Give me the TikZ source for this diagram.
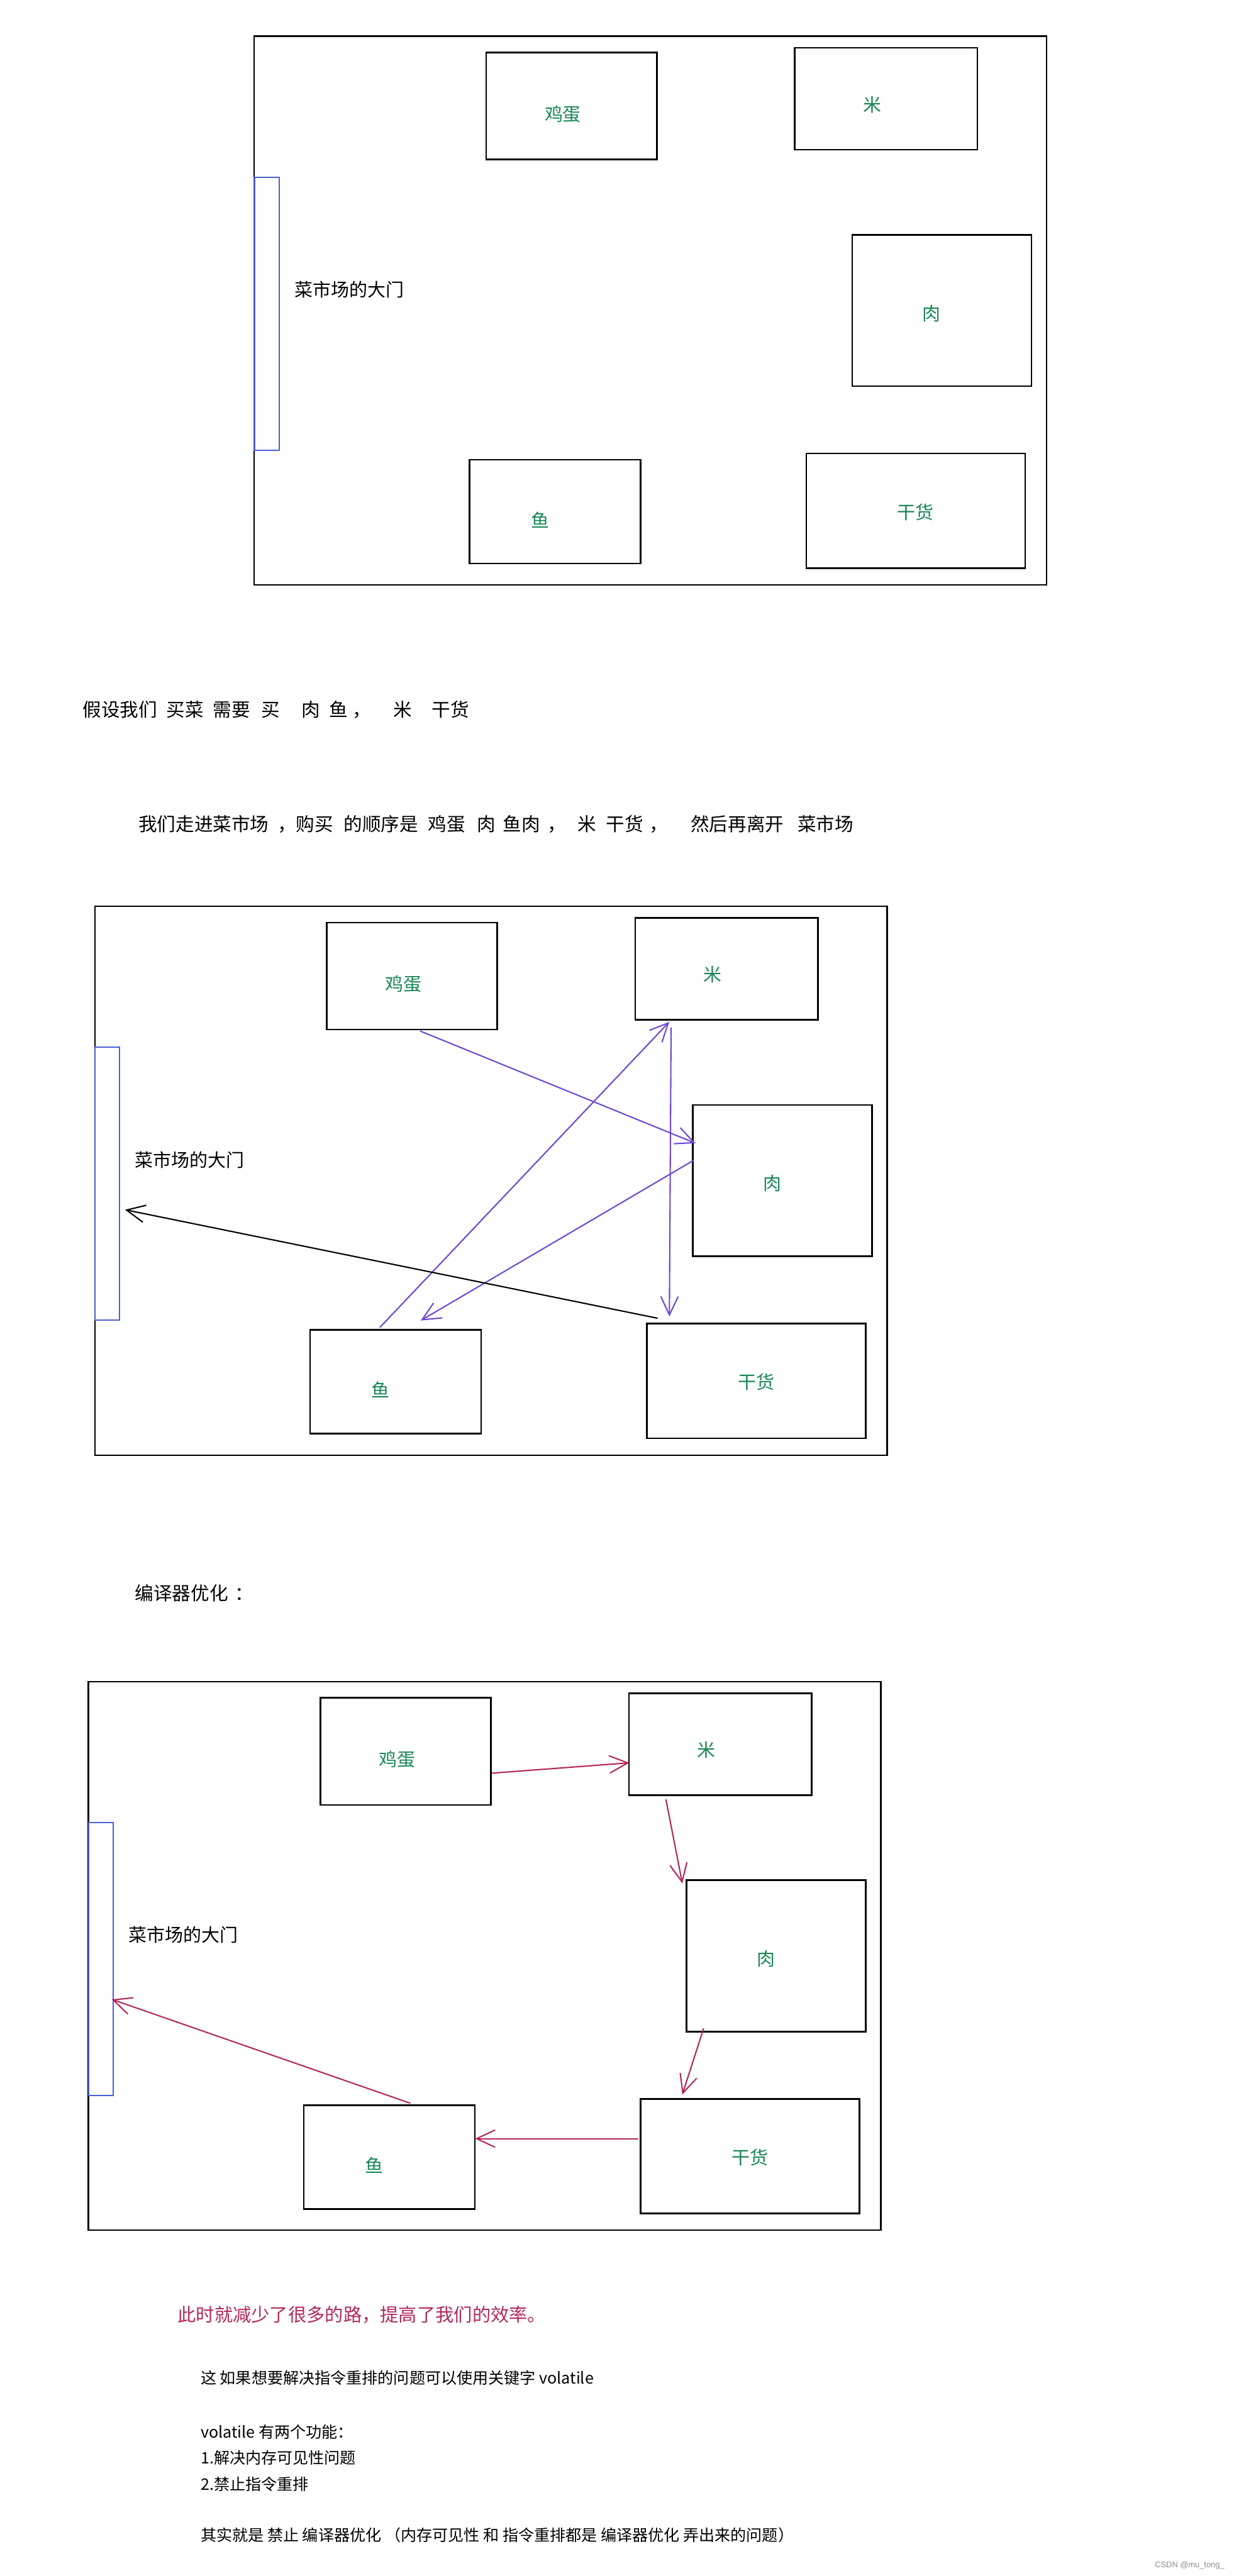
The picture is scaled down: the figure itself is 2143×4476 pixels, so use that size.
\documentclass[tikz,border=0pt]{standalone}
\usepackage{fontspec}
\setmainfont{Noto Sans CJK SC}
\newfontfamily\creditfont{Liberation Sans}
\usetikzlibrary{arrows.meta, calc}

\definecolor{stallgreen}{RGB}{25,135,85}
\definecolor{gateblue}{RGB}{75,95,210}
\definecolor{routeviolet}{RGB}{110,72,212}
\definecolor{shortred}{RGB}{178,40,92}

\begin{document}
\begin{tikzpicture}[
  x=0.01cm, y=-0.01cm,
  hall/.style={draw=black, line width=0.7pt, minimum width=13.76cm, minimum height=9.53cm, inner sep=0pt},
  stall/.style={draw=black, line width=0.8pt, inner sep=0pt},
  ware/.style={text=stallgreen, inner sep=0pt, font=\fontsize{9pt}{11pt}\selectfont},
  gate/.style={draw=gateblue, line width=0.65pt, minimum width=0.43cm, minimum height=4.74cm, inner sep=0pt},
  gatelbl/.style={anchor=west, inner sep=0pt, font=\fontsize{9pt}{11pt}\selectfont},
  body/.style={anchor=west, inner sep=0pt, font=\fontsize{9.2pt}{11pt}\selectfont},
  note/.style={anchor=west, inner sep=0pt, font=\fontsize{7.8pt}{9pt}\selectfont},
  route/.style={draw=routeviolet, line width=0.65pt, -{Straight Barb[length=0.32cm, width=0.3cm]}},
  short/.style={draw=shortred, line width=0.65pt, -{Straight Barb[length=0.32cm, width=0.3cm]}},
  outway/.style={draw=black, line width=0.65pt, -{Straight Barb[length=0.32cm, width=0.3cm]}}
]
\path[fill=white, use as bounding box] (0,0) rectangle (2143,4476);

% the market, drawn three times
\foreach \mk/\dx/\dy in {a/0/0, b/-277/1512, c/-288/2859}{
  \begin{scope}[shift={(\dx,\dy)}]
    \node[hall] (\mk-hall) at (1130,539.5) {};
    \node[stall, minimum width=2.96cm, minimum height=1.86cm,
      label={[ware, shift={(-15,14)}]center:鸡蛋}] (\mk-egg) at (993,184) {};
    \node[stall, minimum width=3.17cm, minimum height=1.77cm,
      label={[ware, shift={(-24,10)}]center:米}] (\mk-rice) at (1539.5,171.5) {};
    \node[stall, minimum width=3.11cm, minimum height=2.63cm,
      label={[ware, shift={(-18,5)}]center:肉}] (\mk-meat) at (1636.5,539.5) {};
    \node[stall, minimum width=2.97cm, minimum height=1.80cm,
      label={[ware, shift={(-26,14)}]center:鱼}] (\mk-fish) at (964.5,889) {};
    \node[stall, minimum width=3.80cm, minimum height=1.99cm,
      label={[ware, shift={(0,2)}]center:干货}] (\mk-dry) at (1591,887.5) {};
    \node[gate] (\mk-gate) at (463.5,545) {};
    \node[gatelbl] (\mk-gatelbl) at (511,503) {菜市场的大门};
  \end{scope}
}

\node[body] (plan) at (143,1233)
  {假设我们\hspace{1.6mm}买菜\hspace{1.6mm}需要\hspace{1.9mm}买\hspace{3.8mm}肉\hspace{1.6mm}鱼\hspace{0.8mm}，\hspace{3.8mm}米\hspace{3.5mm}干货};
\node[body] (order) at (240,1432)
  {我们走进菜市场\hspace{1.5mm}，购买\hspace{1.8mm}的顺序是\hspace{1.7mm}鸡蛋\hspace{2mm}肉\hspace{1.3mm}鱼肉\hspace{1.3mm}，\hspace{2mm}米\hspace{1.7mm}干货\hspace{1mm}，\hspace{4mm}然后再离开\hspace{2.4mm}菜市场};

% first walk
\draw[route] ($(b-egg.south)+(14,1)$) -- ($(b-meat.west)+(6,-65)$);
\draw[route] ($(b-meat.west)+(2,-35)$) -- ($(b-fish.north)+(43.5,-15)$);
\draw[route] ($(b-fish.north)+(-27.5,-3)$) -- ($(b-rice.south)+(-99.5,2)$);
\draw[route] ($(b-rice.south)+(-96.5,12)$) -- ($(b-dry.north)+(-151,-11)$);
\draw[outway] ($(b-dry.north west)+(20,-8)$) -- ($(b-gate.east)+(8,45)$);

\node[body] (opt) at (234,2768) {编译器优化\hspace{1.2mm}：};

% after reordering
\draw[short] ($(c-egg.east)+(0,38)$) -- ($(c-rice.west)+(2,32.5)$);
\draw[short] ($(c-rice.south)+(-94.5,6)$) -- ($(c-meat.north west)+(-6,7)$);
\draw[short] ($(c-meat.south west)+(31,-7)$) -- ($(c-dry.north west)+(74,-6)$);
\draw[short] ($(c-dry.west)+(-2,-30.5)$) -- ($(c-fish.east)+(-1,-32)$);
\draw[short] ($(c-fish.north)+(36.5,-2)$) -- ($(c-gate.east)+(-4,70)$);

\node[body, text=shortred, font=\fontsize{9.1pt}{11pt}\selectfont] (gain) at (308,4022) {此时就减少了很多的路，提高了我们的效率。};
\node[note] (hint) at (348,4132) {这 如果想要解决指令重排的问题可以使用关键字 volatile};
\node[note] (uses) at (348,4226) {volatile 有两个功能：};
\node[note] (use1) at (348,4271) {1.解决内存可见性问题};
\node[note] (use2) at (348,4316) {2.禁止指令重排};
\node[note] (sum) at (348,4405) {其实就是 禁止 编译器优化 （内存可见性 和 指令重排都是 编译器优化 弄出来的问题）};
\node[anchor=east, inner sep=0pt, text=black!45, font=\creditfont\fontsize{4pt}{5pt}\selectfont] (credit) at (2128,4458) {CSDN @mu\_tong\_};
\end{tikzpicture}
\end{document}
